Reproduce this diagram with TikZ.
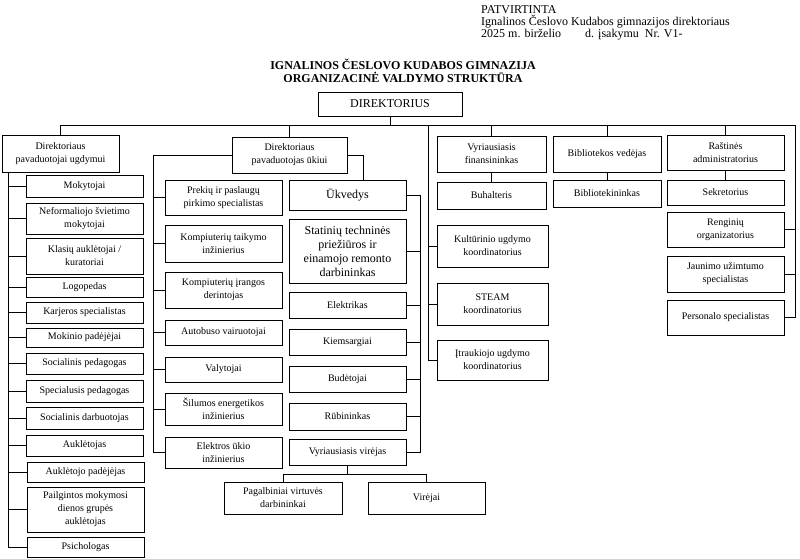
\documentclass[tikz,border=0pt]{standalone}
\usepackage{fontspec}
\setmainfont{Liberation Serif}
\usetikzlibrary{positioning}

\begin{document}
\begin{tikzpicture}[
  x=1pt,y=-1pt,
  every node/.style={align=center},
  box/.style={draw,line width=0.8pt,inner sep=1pt,fill=white,font=\fontsize{10}{13}\selectfont},
  big/.style={box,font=\fontsize{12}{14}\selectfont},
  line/.style={line width=0.7pt},
  hdr/.style={inner sep=0pt,anchor=base west,font=\fontsize{12}{14}\selectfont},
  ttl/.style={inner sep=0pt,anchor=base,font=\fontsize{12}{14}\selectfont\bfseries}
]
\path[use as bounding box] (0,0) rectangle (800,559);

\node[hdr] (patv) at (481,14) {PATVIRTINTA};
\node[hdr] (isak) at (481,26) {Ignalinos Česlovo Kudabos gimnazijos direktoriaus};
\node[hdr] (data) at (481,38) {2025 m. birželio\hspace{24pt}d. įsakymu\ \ Nr. V1-};
\node[ttl] (ttl1) at (403,70) {IGNALINOS ČESLOVO KUDABOS GIMNAZIJA};
\node[ttl] (ttl2) at (403,83) {ORGANIZACINĖ VALDYMO STRUKTŪRA};

\node[big,minimum width=144pt,minimum height=24pt] (dir) at (390,104) {DIREKTORIUS};

% ugdymas
\node[box,minimum width=117pt,minimum height=37pt] (ugd) at (60.5,153.5) {Direktoriaus\\pavaduotojai ugdymui};
\node[box,minimum width=117pt,minimum height=22pt] (mokyt) at (84.5,186) {Mokytojai};
\node[box,minimum width=117pt,minimum height=31pt] (neform) at (84.5,218.5) {Neformaliojo švietimo\\mokytojai};
\node[box,minimum width=117pt,minimum height=36pt] (klas) at (84.5,256) {Klasių auklėtojai /\\kuratoriai};
\node[box,minimum width=117pt,minimum height=20pt] (logo) at (84.5,287) {Logopedas};
\node[box,minimum width=117pt,minimum height=21pt] (karj) at (84.5,312.5) {Karjeros specialistas};
\node[box,minimum width=117pt,minimum height=19pt] (mokpad) at (84.5,337.5) {Mokinio padėjėjai};
\node[box,minimum width=117pt,minimum height=21pt] (socped) at (84.5,363.5) {Socialinis pedagogas};
\node[box,minimum width=117pt,minimum height=22pt] (specped) at (84.5,391) {Specialusis pedagogas};
\node[box,minimum width=117pt,minimum height=22pt] (socdarb) at (84.5,418) {Socialinis darbuotojas};
\node[box,minimum width=117pt,minimum height=21pt] (aukl) at (84.5,445.5) {Auklėtojas};
\node[box,minimum width=117pt,minimum height=20pt] (auklpad) at (85.5,472) {Auklėtojo padėjėjas};
\node[box,minimum width=117pt,minimum height=45pt] (pailg) at (85.5,509.5) {Pailgintos mokymosi\\dienos grupės\\auklėtojas};
\node[box,minimum width=117pt,minimum height=20pt] (psich) at (85.5,547) {Psichologas};

% ukis
\node[box,minimum width=115pt,minimum height=36pt] (ukio) at (289.5,155) {Direktoriaus\\pavaduotojas ūkiui};
\node[box,minimum width=117pt,minimum height=35pt] (prek) at (223.5,197.5) {Prekių ir paslaugų\\pirkimo specialistas};
\node[box,minimum width=117pt,minimum height=37pt] (komptaik) at (223.5,243.5) {Kompiuterių taikymo\\inžinierius};
\node[box,minimum width=117pt,minimum height=36pt] (kompir) at (223.5,290) {Kompiuterių įrangos\\derintojas};
\node[box,minimum width=117pt,minimum height=25pt] (autob) at (223.5,332.5) {Autobuso vairuotojai};
\node[box,minimum width=117pt,minimum height=25pt] (valyt) at (223.5,369.5) {Valytojai};
\node[box,minimum width=117pt,minimum height=32pt] (silum) at (223.5,409) {Šilumos energetikos\\inžinierius};
\node[box,minimum width=117pt,minimum height=31pt] (elukio) at (223.5,452.5) {Elektros ūkio\\inžinierius};

\node[big,minimum width=117pt,minimum height=30pt] (ukv) at (347.5,195) {Ūkvedys};
\node[big,minimum width=117pt,minimum height=64pt] (stat) at (347.5,251) {Statinių techninės\\priežiūros ir\\einamojo remonto\\darbininkas};
\node[box,minimum width=117pt,minimum height=26pt] (elektr) at (347.5,305) {Elektrikas};
\node[box,minimum width=117pt,minimum height=26pt] (kiems) at (347.5,342) {Kiemsargiai};
\node[box,minimum width=117pt,minimum height=26pt] (budet) at (347.5,379) {Budėtojai};
\node[box,minimum width=117pt,minimum height=27pt] (rubin) at (347.5,416.5) {Rūbininkas};
\node[box,minimum width=117pt,minimum height=26pt] (virejas) at (347.5,452) {Vyriausiasis virėjas};
\node[box,minimum width=118pt,minimum height=32pt] (pagalb) at (283,498) {Pagalbiniai virtuvės\\darbininkai};
\node[box,minimum width=117pt,minimum height=32pt] (virejai) at (426.5,498) {Virėjai};

% finansai, koordinatoriai
\node[box,minimum width=109pt,minimum height=36pt] (fin) at (491.5,154) {Vyriausiasis\\finansininkas};
\node[box,minimum width=109pt,minimum height=27pt] (buh) at (491.5,195.5) {Buhalteris};
\node[box,minimum width=111pt,minimum height=42pt] (kult) at (492.5,246) {Kultūrinio ugdymo\\koordinatorius};
\node[box,minimum width=111pt,minimum height=42pt] (steam) at (492.5,304) {STEAM\\koordinatorius};
\node[box,minimum width=111pt,minimum height=40pt] (itrauk) at (492.5,360) {Įtraukiojo ugdymo\\koordinatorius};

\node[box,minimum width=108pt,minimum height=36pt] (bibved) at (607,154) {Bibliotekos vedėjas};
\node[box,minimum width=108pt,minimum height=27pt] (bibl) at (607,193.5) {Bibliotekininkas};

\node[box,minimum width=117pt,minimum height=35pt] (rast) at (725.5,152.5) {Raštinės\\administratorius};
\node[box,minimum width=117pt,minimum height=25pt] (sekr) at (725.5,192.5) {Sekretorius};
\node[box,minimum width=117pt,minimum height=35pt] (reng) at (725.5,229.5) {Renginių\\organizatorius};
\node[box,minimum width=117pt,minimum height=36pt] (jaun) at (725.5,274) {Jaunimo užimtumo\\specialistas};
\node[box,minimum width=117pt,minimum height=35pt] (pers) at (725.5,317.5) {Personalo specialistas};

\coordinate (busL) at (60.5,125);
\coordinate (busR) at (795,125);
\coordinate (trM) at (428,125);
\coordinate (trL) at (8,172);
\coordinate (trU) at (153,155);
\coordinate (trK) at (420,195);
\coordinate (ukvTop) at (363,155);
\coordinate (kbus) at (346,474);

\draw[line] (dir.south) -- (dir.south |- busL);
\draw[line] (busL) -- (busR);
\draw[line] (busL) -- (ugd.north);
\draw[line] (ukio.north) -- (ukio.north |- busL);
\draw[line] (fin.north) -- (fin.north |- busL);
\draw[line] (bibved.north) -- (bibved.north |- busL);
\draw[line] (rast.north) -- (rast.north |- busL);
\draw[line] (fin) -- (buh);
\draw[line] (bibved) -- (bibl);
\draw[line] (rast) -- (sekr);

\draw[line] (trM) |- (itrauk.west);
\draw[line] (kult.west) -- (kult.west -| trM);
\draw[line] (steam.west) -- (steam.west -| trM);

\draw[line] (busR) |- (pers.east);
\draw[line] (reng.east) -- (reng.east -| busR);
\draw[line] (jaun.east) -- (jaun.east -| busR);

\draw[line] (trL) |- (psich.west);
\draw[line] (mokyt.west) -- (mokyt.west -| trL);
\draw[line] (neform.west) -- (neform.west -| trL);
\draw[line] (klas.west) -- (klas.west -| trL);
\draw[line] (logo.west) -- (logo.west -| trL);
\draw[line] (karj.west) -- (karj.west -| trL);
\draw[line] (mokpad.west) -- (mokpad.west -| trL);
\draw[line] (socped.west) -- (socped.west -| trL);
\draw[line] (specped.west) -- (specped.west -| trL);
\draw[line] (socdarb.west) -- (socdarb.west -| trL);
\draw[line] (aukl.west) -- (aukl.west -| trL);
\draw[line] (auklpad.west) -- (auklpad.west -| trL);
\draw[line] (pailg.west) -- (pailg.west -| trL);

\draw[line] (ukio.west) -| (trU |- elukio.west) -- (elukio.west);
\draw[line] (prek.west) -- (prek.west -| trU);
\draw[line] (komptaik.west) -- (komptaik.west -| trU);
\draw[line] (kompir.west) -- (kompir.west -| trU);
\draw[line] (autob.west) -- (autob.west -| trU);
\draw[line] (valyt.west) -- (valyt.west -| trU);
\draw[line] (silum.west) -- (silum.west -| trU);

\draw[line] (ukio.east) -| (ukvTop |- ukv.north);
\draw[line] (ukv.east) -| (trK |- virejas.east) -- (virejas.east);
\draw[line] (stat.east) -- (stat.east -| trK);
\draw[line] (elektr.east) -- (elektr.east -| trK);
\draw[line] (kiems.east) -- (kiems.east -| trK);
\draw[line] (budet.east) -- (budet.east -| trK);
\draw[line] (rubin.east) -- (rubin.east -| trK);

\draw[line] (virejas.south) -- (virejas.south |- kbus);
\draw[line] (pagalb.north) -- (pagalb.north |- kbus) -- (virejai.north |- kbus) -- (virejai.north);
\end{tikzpicture}
\end{document}
